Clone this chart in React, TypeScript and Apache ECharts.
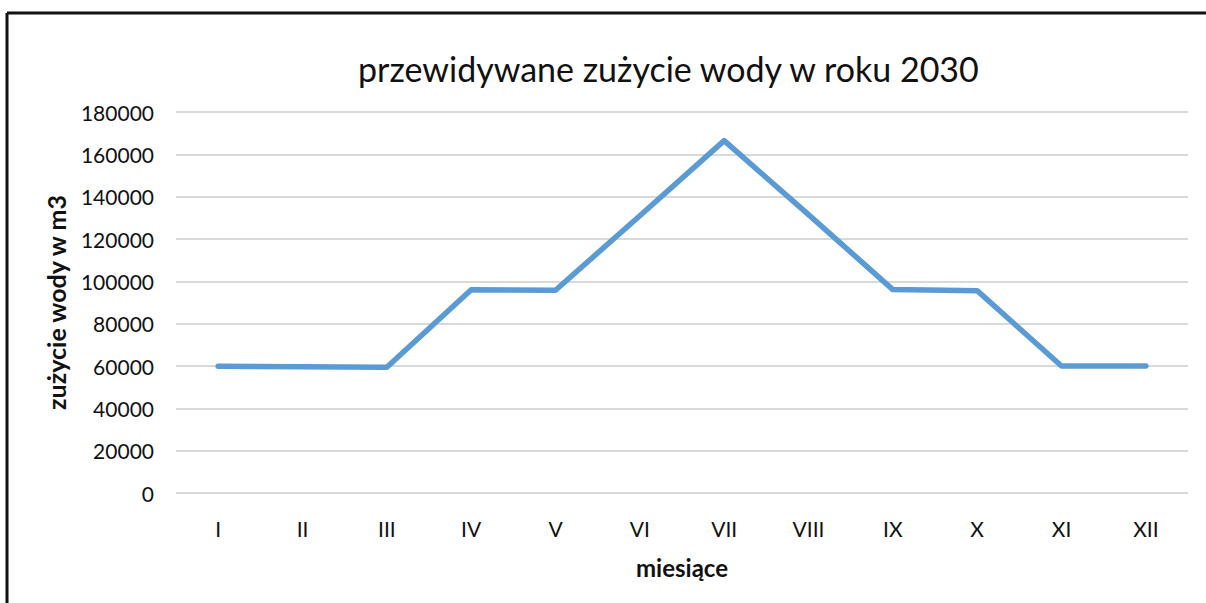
import React, { useEffect, useRef } from "react";
import * as echarts from "echarts";

const months = ["I", "II", "III", "IV", "V", "VI", "VII", "VIII", "IX", "X", "XI", "XII"];
const usage = [59900, 59600, 59400, 96000, 95800, 131000, 166500, 131500, 96100, 95600, 60000, 60000];
const yMin = 0;
const yMax = 180000;
const yStep = 20000;
const titleText = "przewidywane zużycie wody w roku 2030";
const yName = "zużycie wody w m3";
const xName = "miesiące";

const FONT = "Lato, 'Noto Sans', sans-serif";
const TEXT = "#111111";

export default function App() {
  const ref = useRef<HTMLDivElement>(null);
  useEffect(() => {
    if (!ref.current) return;
    const chart = echarts.init(ref.current, null, { renderer: "svg" });
    chart.setOption({
      animation: false,
      backgroundColor: "#ffffff",
      textStyle: { fontFamily: FONT },
      title: {
        text: titleText,
        left: 358,
        top: 51,
        padding: 0,
        textStyle: { fontFamily: FONT, fontSize: 34, fontWeight: "normal", color: TEXT },
      },
      grid: { left: 176, right: 18, top: 112, bottom: 110, containLabel: false },
      xAxis: {
        type: "category",
        data: months,
        boundaryGap: true,
        axisLine: { show: false },
        axisTick: { show: false },
        axisLabel: { fontFamily: FONT, fontSize: 21, color: TEXT, margin: 25 },
        name: xName,
        nameLocation: "middle",
        nameGap: 62,
        nameTextStyle: { fontFamily: FONT, fontSize: 24, fontWeight: "bold", color: TEXT },
      },
      yAxis: {
        type: "value",
        min: yMin,
        max: yMax,
        interval: yStep,
        axisLine: { show: false },
        axisTick: { show: false },
        splitLine: { show: true, lineStyle: { color: "#d9d9d9", width: 2 } },
        axisLabel: {
          fontFamily: FONT,
          fontSize: 21,
          color: TEXT,
          margin: 22,
          formatter: (v: number) => String(v),
        },
        name: yName,
        nameLocation: "middle",
        nameRotate: 90,
        nameGap: 108,
        nameTextStyle: { fontFamily: FONT, fontSize: 25, fontWeight: "bold", color: TEXT },
      },
      series: [
        {
          type: "line",
          data: usage,
          symbol: "none",
          lineStyle: { color: "#5b9bd5", width: 5.5, cap: "round", join: "round" },
        },
      ],
      graphic: [
        { type: "line", shape: { x1: 7, y1: 13, x2: 1206, y2: 13 }, style: { stroke: "#111", lineWidth: 3 } },
        { type: "line", shape: { x1: 7, y1: 13, x2: 7, y2: 603 }, style: { stroke: "#111", lineWidth: 3 } },
      ],
    });
    return () => chart.dispose();
  }, []);
  return (
    <div
      ref={ref}
      style={{ position: "fixed", left: 0, top: 0, width: 1206, height: 603 }}
    />
  );
}
